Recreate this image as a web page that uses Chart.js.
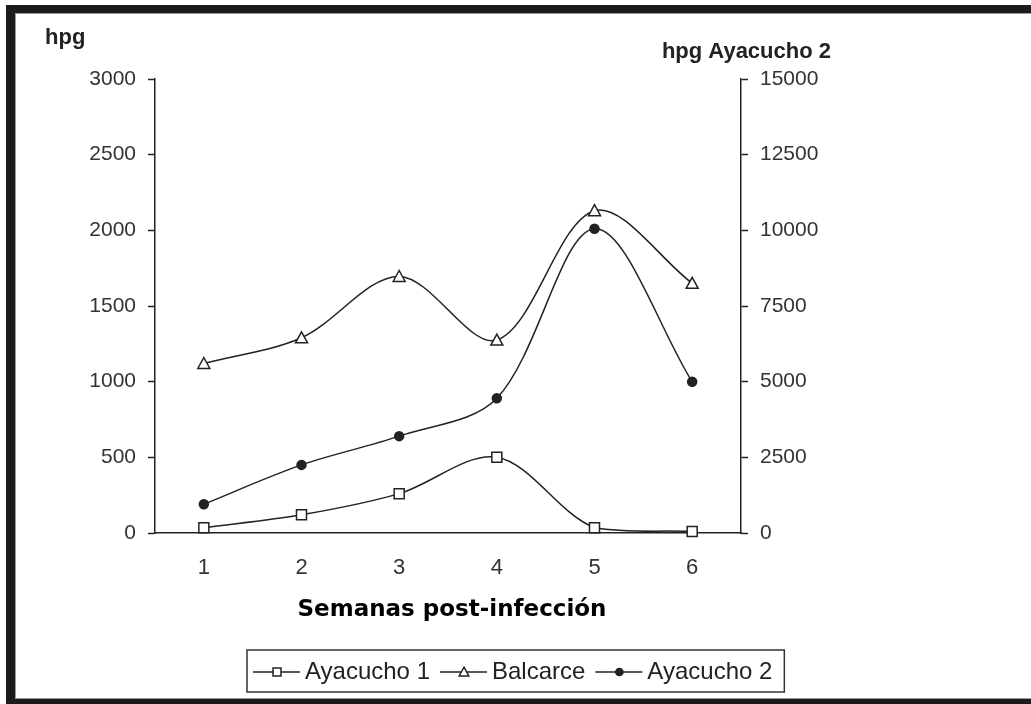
<!DOCTYPE html>
<html>
<head>
<meta charset="utf-8">
<script src="https://cdn.jsdelivr.net/npm/chart.js@4.4.1/dist/chart.umd.min.js"></script>
<style>
  html, body { margin: 0; padding: 0; background: #fff; }
  #wrap { position: relative; width: 1031px; height: 704px; overflow: hidden; }
  canvas { position: absolute; left: 0; top: 0; }
  .band { position: absolute; background: #1c1a1a; }
  .edge { position: absolute; background: #9a9a9a; }
</style>
</head>
<body>
<div id="wrap">
  <canvas id="chart" width="1031" height="704"></canvas>
  <div class="band" style="left:6px; top:5px; width:1025px; height:8px;"></div>
  <div class="band" style="left:6px; top:5px; width:9px; height:699px;"></div>
  <div class="band" style="left:6px; top:699px; width:1025px; height:5px;"></div>
  <div class="edge" style="left:15px; top:13px; width:1016px; height:1px;"></div>
  <div class="edge" style="left:15px; top:13px; width:1px; height:686px;"></div>
  <div class="edge" style="left:15px; top:698px; width:1016px; height:1px;"></div>
</div>
<script>
// semanas post-infeccion
const semanas = ['1', '2', '3', '4', '5', '6'];

// hpg (eje izquierdo)
const ayacucho1 = [35, 120, 260, 500, 35, 10];
const balcarce = [1120, 1290, 1695, 1275, 2130, 1650];

// hpg Ayacucho 2 (eje derecho)
const ayacucho2 = [950, 2250, 3200, 4450, 10050, 5000];

const leftTicks = [0, 500, 1000, 1500, 2000, 2500, 3000];
const rightTicks = [0, 2500, 5000, 7500, 10000, 12500, 15000];

const INK = '#222';
const tickFont = { family: 'Liberation Sans', size: 21 };

function drawMarker(ctx, style, x, y, s) {
  s = s || 1;
  ctx.save();
  ctx.lineWidth = 1.5;
  ctx.strokeStyle = INK;
  ctx.beginPath();
  if (style === 'rect') {
    ctx.fillStyle = '#fff';
    ctx.rect(x - 5 * s, y - 5 * s, 10 * s, 10 * s);
  } else if (style === 'triangle') {
    ctx.fillStyle = '#fff';
    ctx.moveTo(x, y - 6 * s);
    ctx.lineTo(x + 6 * s, y + 5 * s);
    ctx.lineTo(x - 6 * s, y + 5 * s);
    ctx.closePath();
  } else {
    ctx.fillStyle = INK;
    ctx.arc(x, y, 4.5 * s, 0, Math.PI * 2);
  }
  ctx.fill();
  ctx.stroke();
  ctx.restore();
}

// titulos de ejes y leyenda con linea + marcador
const extras = {
  id: 'extras',
  afterDraw(chart) {
    const ctx = chart.ctx;
    ctx.save();
    ctx.fillStyle = INK;
    ctx.textBaseline = 'alphabetic';
    ctx.font = 'bold 22px "Liberation Sans"';
    ctx.textAlign = 'left';
    ctx.fillText('hpg', 45, 44);
    ctx.textAlign = 'right';
    ctx.fillText('hpg Ayacucho 2', 831, 58);

    ctx.font = 'bold 23px "DejaVu Sans"';
    ctx.textAlign = 'center';
    ctx.fillStyle = '#000';
    ctx.fillText('Semanas post-infección', 452, 616);

    // leyenda
    ctx.font = '24px "Liberation Sans"';
    ctx.textAlign = 'left';
    ctx.textBaseline = 'middle';
    const top = 650, bottom = 692, mid = (top + bottom) / 2 + 1;
    let x = 253;
    chart.data.datasets.forEach((ds, i) => {
      ctx.strokeStyle = INK;
      ctx.lineWidth = 1.5;
      ctx.beginPath();
      ctx.moveTo(x, mid);
      ctx.lineTo(x + 47, mid);
      ctx.stroke();
      drawMarker(ctx, ds.pointStyle, x + 24, mid, 0.8);
      x += 52;
      ctx.fillStyle = INK;
      ctx.fillText(ds.label, x, mid);
      x += ctx.measureText(ds.label).width + 10;
    });
    ctx.strokeStyle = '#333';
    ctx.lineWidth = 1.5;
    ctx.strokeRect(247, top, x - 247 + 2, bottom - top);
    ctx.restore();
  }
};

// marcadores dibujados aparte para controlar su forma
const markers = {
  id: 'markers',
  afterDatasetsDraw(chart) {
    const ctx = chart.ctx;
    chart.data.datasets.forEach((ds, i) => {
      chart.getDatasetMeta(i).data.forEach(pt => drawMarker(ctx, ds.pointStyle, pt.x, pt.y));
    });
  }
};

const ds = [
  { label: 'Ayacucho 1', data: ayacucho1, yAxisID: 'y', pointStyle: 'rect' },
  { label: 'Balcarce', data: balcarce, yAxisID: 'y', pointStyle: 'triangle' },
  { label: 'Ayacucho 2', data: ayacucho2, yAxisID: 'y1', pointStyle: 'circle' }
].map(d => Object.assign(d, {
  borderColor: INK,
  borderWidth: 1.5,
  tension: 0.33,
  pointRadius: 0,
  pointHoverRadius: 0
}));

new Chart(document.getElementById('chart'), {
  type: 'line',
  data: { labels: semanas, datasets: ds },
  plugins: [markers, extras],
  options: {
    responsive: false,
    animation: false,
    layout: { padding: { top: 79, left: 0, right: 0, bottom: 0 } },
    plugins: { legend: { display: false }, tooltip: { enabled: false } },
    scales: {
      x: {
        offset: true,
        afterFit: s => { s.height = 171; },
        grid: { display: true, drawOnChartArea: false, drawTicks: false, offset: true },
        border: { color: INK, width: 1.5 },
        ticks: { color: '#333', font: { family: 'Liberation Sans', size: 22 }, padding: 22 }
      },
      y: {
        position: 'left',
        min: 0, max: 3000,
        afterFit: s => { s.width = 155; },
        afterBuildTicks: s => { s.ticks = leftTicks.map(v => ({ value: v })); },
        grid: { drawOnChartArea: false, tickLength: 7, tickColor: INK, tickWidth: 1.5 },
        border: { color: INK, width: 1.5 },
        ticks: { color: '#333', font: tickFont, padding: 12, callback: v => String(v) }
      },
      y1: {
        position: 'right',
        min: 0, max: 15000,
        afterFit: s => { s.width = 290; },
        afterBuildTicks: s => { s.ticks = rightTicks.map(v => ({ value: v })); },
        grid: { drawOnChartArea: false, tickLength: 7, tickColor: INK, tickWidth: 1.5 },
        border: { color: INK, width: 1.5 },
        ticks: { color: '#333', font: tickFont, padding: 12, callback: v => String(v) }
      }
    }
  }
});
</script>
</body>
</html>
